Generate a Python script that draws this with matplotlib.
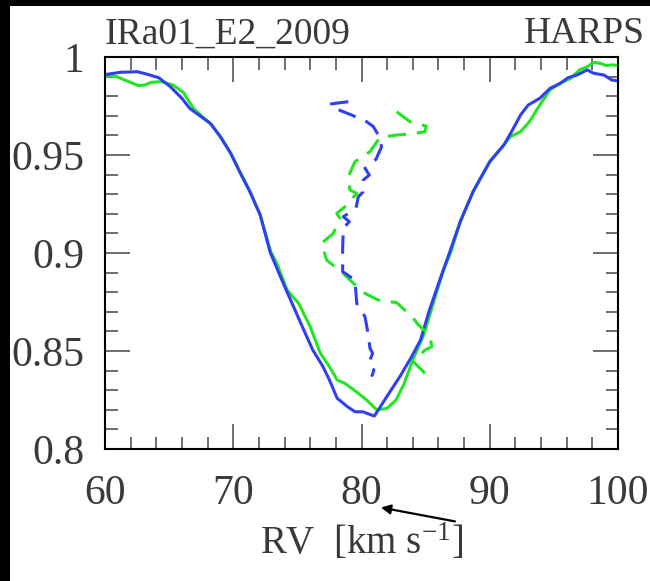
import numpy as np
import matplotlib
matplotlib.use('Agg')
import matplotlib.pyplot as plt
from matplotlib.patches import Rectangle

plt.rcParams['font.family'] = ['Liberation Serif', 'DejaVu Serif']
plt.rcParams['mathtext.fontset'] = 'custom'
plt.rcParams['mathtext.rm'] = 'Liberation Serif'
plt.rcParams['mathtext.it'] = 'Liberation Serif:italic'

# CCF profiles (RV in km/s, normalised flux)
rv_blue = [60.0, 61.2, 62.5, 63.3, 64.2, 65.1, 66.0, 66.6, 67.4, 68.2, 69.0, 69.8,
           70.5, 71.3, 72.1, 72.9, 73.9, 74.7, 75.5, 76.2, 77.0, 77.5, 78.1, 78.9,
           79.5, 80.1, 81.0, 82.0, 83.0, 83.9, 84.6, 85.3, 86.1, 86.8, 87.7, 88.7,
           90.0, 91.1, 91.7, 92.4, 93.0, 93.9, 94.7, 95.5, 96.1, 96.8, 97.6, 98.1,
           98.9, 99.5, 100.0]
ccf_blue = [0.9910, 0.9922, 0.9925, 0.9912, 0.9894, 0.9848, 0.9789, 0.9738, 0.9700,
            0.9662, 0.9593, 0.9509, 0.9415, 0.9313, 0.9194, 0.9000, 0.8845, 0.8726,
            0.8607, 0.8505, 0.8420, 0.8352, 0.8259, 0.8216, 0.8190, 0.8190, 0.8168,
            0.8270, 0.8370, 0.8470, 0.8556, 0.8709, 0.8862, 0.8990, 0.9160, 0.9313,
            0.9466, 0.9551, 0.9619, 0.9704, 0.9755, 0.9789, 0.9840, 0.9866, 0.9894,
            0.9908, 0.9934, 0.9917, 0.9908, 0.9883, 0.9878]

rv_green = [60.0, 60.9, 61.7, 62.6, 63.1, 63.6, 64.4, 65.3, 66.1, 66.9, 67.6, 68.3,
            69.0, 69.8, 70.5, 71.3, 72.1, 72.9, 73.4, 74.2, 75.1, 76.0, 76.8, 77.5,
            78.1, 78.7, 79.6, 80.4, 81.2, 82.0, 82.7, 83.3, 84.0, 84.8, 85.6, 86.4,
            87.0, 87.7, 88.7, 90.0, 91.1, 91.6, 92.4, 93.1, 93.9, 94.7, 95.5, 96.3,
            97.0, 97.6, 98.1, 98.6, 99.1, 99.6, 100.0]
ccf_green = [0.9905, 0.9900, 0.9878, 0.9854, 0.9857, 0.9871, 0.9874, 0.9857, 0.9820,
             0.9738, 0.9695, 0.9655, 0.9593, 0.9509, 0.9415, 0.9313, 0.9194, 0.9010,
             0.8947, 0.8811, 0.8743, 0.8624, 0.8488, 0.8420, 0.8352, 0.8335, 0.8292,
             0.8250, 0.8199, 0.8208, 0.8250, 0.8330, 0.8454, 0.8573, 0.8743, 0.8913,
             0.9010, 0.9160, 0.9313, 0.9466, 0.9551, 0.9593, 0.9619, 0.9670, 0.9755,
             0.9832, 0.9866, 0.9891, 0.9934, 0.9950, 0.9973, 0.9968, 0.9956, 0.9960,
             0.9956]

# bisectors (dashed)
bis_blue_x = [78.97, 77.54, 77.93, 79.23, 80.40, 80.92, 81.31, 81.44, 81.57, 81.13,
              80.27, 80.61, 80.14, 80.14, 79.75, 79.57, 78.58, 79.05, 78.58, 78.53,
              78.53, 79.49, 79.63, 80.27, 80.53, 80.66, 80.87, 80.66, 80.66, 80.97,
              80.79]
bis_blue_y = [0.9772, 0.9760, 0.9738, 0.9704, 0.9670, 0.9645, 0.9602, 0.9568, 0.9543,
              0.9478, 0.9432, 0.9398, 0.9372, 0.9313, 0.9287, 0.9228, 0.9185, 0.9160,
              0.9126, 0.9024, 0.8905, 0.8862, 0.8743, 0.8675, 0.8582, 0.8514, 0.8488,
              0.8454, 0.8420, 0.8403, 0.8369]

bis_green_x = [82.74, 83.78, 85.03, 84.95, 83.91, 82.74, 81.44, 80.66, 79.49, 78.97,
               79.10, 79.63, 78.71, 78.07, 78.32, 77.80, 76.89, 77.28, 77.93, 78.45,
               79.23, 80.27, 81.31, 82.74, 83.52, 84.04, 84.43, 85.34, 85.47, 84.95,
               84.04, 84.95]
bis_green_y = [0.9721, 0.9670, 0.9648, 0.9619, 0.9607, 0.9602, 0.9590, 0.9517, 0.9466,
               0.9389, 0.9321, 0.9304, 0.9236, 0.9202, 0.9177, 0.9100, 0.9049, 0.8964,
               0.8930, 0.8905, 0.8854, 0.8794, 0.8760, 0.8747, 0.8700, 0.8667, 0.8633,
               0.8582, 0.8522, 0.8505, 0.8446, 0.8386]

xticks = [60, 70, 80, 90, 100]
yticks = [0.8, 0.85, 0.9, 0.95, 1.0]
ylabels = ['0.8', '0.85', '0.9', '0.95', '1']

blue = '#3040f0'
green = '#22e622'
txt = '#3a3a3a'

fig = plt.figure(figsize=(6.5, 5.81), dpi=100, facecolor='black')
fig.patches.append(Rectangle((10/650, 0), 640/650, 575/581, transform=fig.transFigure,
                             facecolor='white', edgecolor='none', zorder=-1))
ax = fig.add_axes([105/650, 1 - 449/581, 513/650, 392/581])

ax.plot(rv_green, ccf_green, color=green, lw=2.2)
ax.plot(rv_blue, ccf_blue, color=blue, lw=2.2)
ax.plot(bis_green_x, bis_green_y, color=green, lw=2.2, ls=(0, (6, 3.5)))
ax.plot(bis_blue_x, bis_blue_y, color=blue, lw=2.2, ls=(0, (6, 3.5)))

ax.set_xlim(60, 100)
ax.set_ylim(0.8, 1.0)
ax.set_xticks(xticks)
ax.set_xticks(np.arange(60, 101, 2), minor=True)
ax.set_yticks(yticks)
ax.set_yticklabels(ylabels)
ax.set_yticks(np.arange(0.8, 1.001, 0.01), minor=True)
ax.tick_params(which='both', direction='in', top=True, right=True,
               color='#555555', width=1.2, labelsize=30, labelcolor=txt)
ax.tick_params(which='major', length=18)
ax.tick_params(which='minor', length=9)
ax.tick_params(axis='x', pad=18)
ax.tick_params(axis='y', pad=15)
for s in ax.spines.values():
    s.set_linewidth(1.5)
    s.set_color('black')

ax.text(0.0, 1.035, 'IRa01_E2_2009', transform=ax.transAxes, ha='left', va='baseline',
        fontsize=27, color=txt)
ax.text(1.052, 1.035, 'HARPS', transform=ax.transAxes, ha='right', va='baseline',
        fontsize=27, color=txt)
fig.text(361.5/650, (581 - 554)/581, r'RV  [km s$^{-1}$]', ha='center', va='baseline',
         fontsize=28, color=txt)

ax.annotate('', xy=(81.3, 0.7704), xytext=(87.5, 0.7628),
            arrowprops=dict(arrowstyle='-|>', color='black', lw=1.6, mutation_scale=14),
            annotation_clip=False)

fig.savefig('out.png', dpi=100, facecolor=fig.get_facecolor())
